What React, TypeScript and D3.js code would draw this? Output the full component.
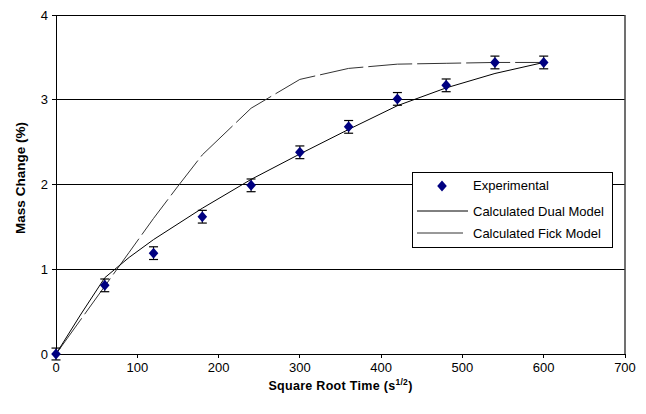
import React from "react";
import * as d3 from "d3";

const expX = [0, 60, 120, 180, 240, 300, 360, 420, 480, 540, 600];
const expY = [0, 0.81, 1.19, 1.62, 1.99, 2.38, 2.68, 3.01, 3.17, 3.44, 3.44];
const expErr = [0.07, 0.075, 0.075, 0.075, 0.075, 0.075, 0.075, 0.075, 0.075, 0.075, 0.075];

const dualX = [0, 30, 60, 90, 120, 180, 240, 300, 360, 420, 480, 540, 600];
const dualY = [0, 0.46, 0.9, 1.14, 1.35, 1.72, 2.06, 2.36, 2.65, 2.93, 3.14, 3.31, 3.44];

const fickX = [0, 30, 60, 90, 120, 150, 180, 240, 300, 360, 420, 480, 540, 600];
const fickY = [0, 0.4, 0.8, 1.2, 1.6, 1.98, 2.35, 2.9, 3.24, 3.37, 3.42, 3.43, 3.44, 3.44];

const xTicks = [0, 100, 200, 300, 400, 500, 600, 700];
const yTicks = [0, 1, 2, 3, 4];

const legendLabels = ["Experimental", "Calculated Dual Model", "Calculated Fick Model"];

export default function App() {
  const W = 646, H = 414;
  const x = d3.scaleLinear().domain([0, 700]).range([56, 625]);
  const y = d3.scaleLinear().domain([0, 4]).range([354, 15]);
  const line = d3.line<[number, number]>().x(d => x(d[0])).y(d => y(d[1]));
  const dualPts: [number, number][] = dualX.map((v, i) => [v, dualY[i]]);
  const fickPts: [number, number][] = fickX.map((v, i) => [v, fickY[i]]);
  const diamond = "M0,-5.5L4.8,0L0,5.5L-4.8,0Z";
  const font = "'Liberation Sans', Arial, sans-serif";
  const lx = 412, ly = 172, lw = 200, lh = 75;
  return (
    <svg width={W} height={H} style={{ position: "absolute", left: 0, top: 0, background: "#fff" }} fontFamily={font}>
      <rect x={0} y={0} width={W} height={H} fill="#fff" />
      {/* gridlines */}
      {yTicks.filter(t => t > 0).map(t => (
        <line key={t} x1={x(0)} x2={x(700)} y1={y(t)} y2={y(t)} stroke="#000" strokeWidth={1} shapeRendering="crispEdges" />
      ))}
      {/* plot border right */}
      <line x1={x(700)} x2={x(700)} y1={y(4)} y2={y(0)} stroke="#404040" strokeWidth={1.5} />
      {/* axes */}
      <line x1={x(0)} x2={x(0)} y1={y(4)} y2={y(0)} stroke="#000" strokeWidth={1} shapeRendering="crispEdges" />
      <line x1={x(0)} x2={x(700)} y1={y(0)} y2={y(0)} stroke="#000" strokeWidth={1} shapeRendering="crispEdges" />
      {yTicks.map(t => (
        <g key={t}>
          <line x1={x(0) - 4} x2={x(0)} y1={y(t)} y2={y(t)} stroke="#000" shapeRendering="crispEdges" />
          <text x={x(0) - 8} y={y(t) + 4.5} fontSize={13} textAnchor="end" fill="#000">{t}</text>
        </g>
      ))}
      {xTicks.map(t => (
        <g key={t}>
          <line x1={x(t)} x2={x(t)} y1={y(0)} y2={y(0) + 4} stroke="#000" shapeRendering="crispEdges" />
          <text x={x(t)} y={y(0) + 18} fontSize={13} textAnchor="middle" fill="#000">{t}</text>
        </g>
      ))}
      {/* axis titles */}
      <text x={x(350)} y={390} fontSize={12.5} fontWeight="bold" textAnchor="middle" fill="#000" letterSpacing={0.3}>
        Square Root Time (s<tspan dy={-5} fontSize={8.5}>1/2</tspan><tspan dy={5}>)</tspan>
      </text>
      <text transform={`translate(25,${178}) rotate(-90)`} fontSize={13.5} fontWeight="bold" textAnchor="middle" fill="#000">Mass Change (%)</text>
      {/* model lines */}
      <path d={line(fickPts) || ""} fill="none" stroke="#333" strokeWidth={1} strokeDasharray="44 5" />
      <path d={line(dualPts) || ""} fill="none" stroke="#000" strokeWidth={1} />
      {/* experimental */}
      {expX.map((v, i) => {
        const cx = x(v), cy = y(expY[i]);
        const t = y(expY[i] + expErr[i]), b = y(expY[i] - expErr[i]);
        return (
          <g key={i}>
            <line x1={cx} x2={cx} y1={t} y2={b} stroke="#000" strokeWidth={1} />
            <line x1={cx - 4.5} x2={cx + 4.5} y1={t} y2={t} stroke="#000" strokeWidth={1.2} />
            <line x1={cx - 4.5} x2={cx + 4.5} y1={b} y2={b} stroke="#000" strokeWidth={1.2} />
            <path d={diamond} transform={`translate(${cx},${cy})`} fill="#000080" />
          </g>
        );
      })}
      {/* legend */}
      <rect x={lx} y={ly} width={lw} height={lh} fill="#fff" stroke="#000" strokeWidth={1} shapeRendering="crispEdges" />
      <path d={diamond} transform={`translate(${442},${ly + 14})`} fill="#000080" />
      <text x={473} y={ly + 18} fontSize={13} fill="#000">{legendLabels[0]}</text>
      <line x1={417} x2={468} y1={ly + 39} y2={ly + 39} stroke="#000" strokeWidth={1} />
      <text x={473} y={ly + 43.5} fontSize={13} fill="#000">{legendLabels[1]}</text>
      <line x1={417} x2={463} y1={ly + 61} y2={ly + 61} stroke="#333" strokeWidth={1} />
      <text x={473} y={ly + 65.5} fontSize={13} fill="#000">{legendLabels[2]}</text>
    </svg>
  );
}
